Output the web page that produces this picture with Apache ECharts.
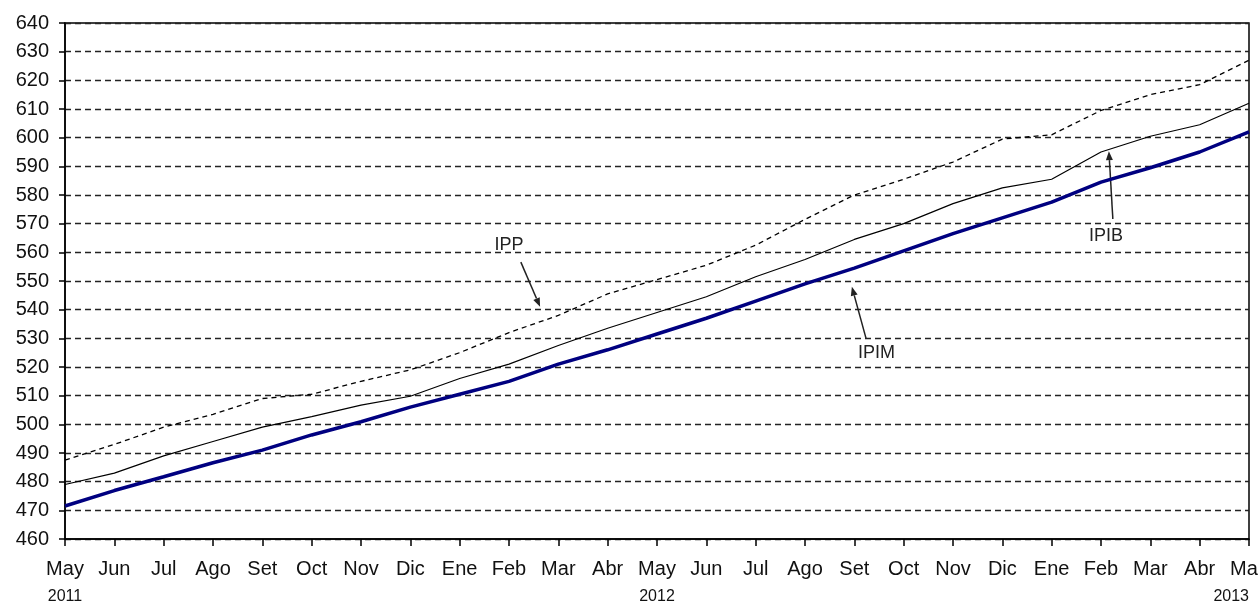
<!DOCTYPE html>
<html><head><meta charset="utf-8">
<script src="https://cdn.jsdelivr.net/npm/echarts@6/dist/echarts.min.js"></script>
<style>html,body{margin:0;padding:0;background:#fff}#c{width:1258px;height:607px}</style>
</head><body><div id="c"></div>
<script>
var months = ['May','Jun','Jul','Ago','Set','Oct','Nov','Dic','Ene','Feb','Mar','Abr',
              'May','Jun','Jul','Ago','Set','Oct','Nov','Dic','Ene','Feb','Mar','Abr','May'];
var years = ['2011','','','','','','','','','','','','2012','','','','','','','','','','','','2013'];
var ipp  = [487.5,493,499,503.5,509,510.5,515,519,525,532,538,545.5,550.5,555.5,562.5,571.5,580,585.5,591.5,599.5,601,609.5,615,618.5,627];
var ipib = [479,483,489,494,499,502.7,506.7,509.8,516,521,527.5,533.5,539,544.5,551.5,557.5,564.5,570,577,582.5,585.5,595,600.5,604.5,612];
var ipim = [471.5,476.9,481.7,486.6,491,496.3,500.9,506,510.5,515,521,526,531.5,537,543,549,554.5,560.5,566.5,572,577.5,584.5,589.5,595,602];
var yTicks = {min:460, max:640, interval:10};
// annotations: label position and arrow (from -> to) in data coords (x = month index)
var annotations = [
  {text:'IPP',  tx:9.0,  tv:562.5, fx:9.24,  fv:556.6, ax:9.63,  av:541},
  {text:'IPIM', tx:16.45,tv:525,   fx:16.24, fv:529.8, ax:15.95, av:548},
  {text:'IPIB', tx:21.1, tv:565.7, fx:21.24, fv:571.6, ax:21.16, av:595.3}
];

var chart = echarts.init(document.getElementById('c'));
var font = '"Liberation Sans", Arial, sans-serif';
chart.setOption({
  animation:false,
  grid:{left:65, right:9, top:23, bottom:68, show:true, borderColor:'#000', borderWidth:1.5, containLabel:false, outerBoundsMode:'none'},
  xAxis:[{
    type:'category', data:months, boundaryGap:false,
    axisLine:{lineStyle:{color:'#000', width:1.5}},
    axisTick:{show:true, interval:0, length:7, lineStyle:{color:'#000', width:1.5}},
    axisLabel:{interval:0, margin:20, fontSize:20, fontFamily:font, color:'#111'},
    splitLine:{show:false}
  },{
    type:'category', data:years, boundaryGap:false, position:'bottom',
    axisLine:{show:false}, axisTick:{show:false},
    axisLabel:{interval:0, margin:50, fontSize:16, fontFamily:font, color:'#111', alignMaxLabel:'right'},
    splitLine:{show:false}
  }],
  yAxis:{
    type:'value', min:yTicks.min, max:yTicks.max, interval:yTicks.interval,
    axisLine:{show:true, lineStyle:{color:'#000', width:1.5}},
    axisTick:{show:true, length:6, lineStyle:{color:'#000', width:1.5}},
    axisLabel:{margin:16, fontSize:20, fontFamily:font, color:'#111'},
    splitLine:{show:true, lineStyle:{color:'#222', width:1.3, type:[6,4]}}
  },
  series:[
    {name:'IPP', type:'line', data:ipp, symbol:'none', lineStyle:{color:'#000', width:1.3, type:[5,4]}},
    {name:'IPIB', type:'line', data:ipib, symbol:'none', lineStyle:{color:'#000', width:1.2}},
    {name:'IPIM', type:'line', data:ipim, symbol:'none', lineStyle:{color:'#000080', width:3.5}}
  ]
});

function px(ix, v){
  var x0 = chart.convertToPixel({xAxisIndex:0}, 0);
  var x1 = chart.convertToPixel({xAxisIndex:0}, months.length-1);
  var x = x0 + (x1-x0)*ix/(months.length-1);
  var y = chart.convertToPixel({yAxisIndex:0}, v);
  return [x,y];
}
var g = [];
annotations.forEach(function(a){
  var t = px(a.tx, a.tv), f = px(a.fx, a.fv), e = px(a.ax, a.av);
  g.push({type:'text', x:t[0], y:t[1], style:{text:a.text, fill:'#222', font:'18px '+font, align:'center', verticalAlign:'middle'}});
  var dx = e[0]-f[0], dy = e[1]-f[1], L = Math.sqrt(dx*dx+dy*dy), ux = dx/L, uy = dy/L;
  var hl = 9, hw = 3.5;
  var bx = e[0]-ux*hl, by = e[1]-uy*hl;
  g.push({type:'line', shape:{x1:f[0], y1:f[1], x2:bx, y2:by}, style:{stroke:'#222', lineWidth:1.5}});
  g.push({type:'polygon', shape:{points:[[e[0],e[1]],[bx-uy*hw,by+ux*hw],[bx+uy*hw,by-ux*hw]]}, style:{fill:'#222'}});
});
chart.setOption({graphic:g});
</script></body></html>
